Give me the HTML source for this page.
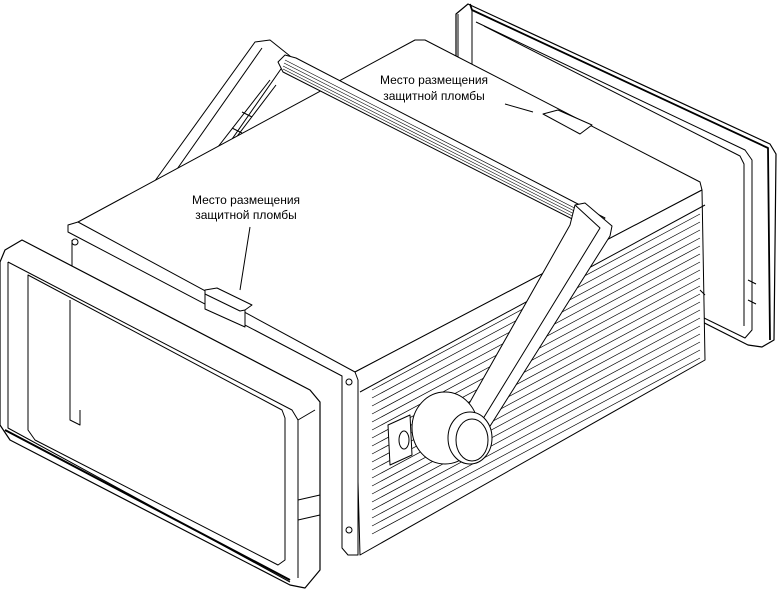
<!DOCTYPE html>
<html><head><meta charset="utf-8"><style>
html,body{margin:0;padding:0;background:#fff;width:777px;height:590px;overflow:hidden}
svg{display:block}
text{font-family:"Liberation Sans","DejaVu Sans",sans-serif;font-size:12px;fill:#000}
</style></head><body>
<svg width="777" height="590" viewBox="0 0 777 590" stroke="#000" stroke-width="1" fill="none" stroke-linejoin="round">
<!-- back bezel -->
<path d="M456 14 L468 4 L770 144 L776 154 L774 340 L762 347 L748 345 L560 250 L456 200 Z" fill="#fff" stroke-width="1.2"/>
<path d="M470 4 L472 10 L768 148 L770 340" stroke-width="1.8"/>
<path d="M476 22 L745 150 L752 160 L752 330 L745 338 L700 316"/>
<path d="M484 26 L740 156 L744 164 L744 326"/>
<path d="M458 14 L458 70 M472 10 L472 75"/>
<path d="M748 280 L756 284 M748 300 L756 304"/>
<!-- handle left arm -->
<path d="M255 42 L270 40 L290 56 L200 185 L152 185 Z" fill="#fff"/>
<path d="M262 48 L168 182 M270 80 L200 170 M276 85 L210 172"/>
<path d="M222 145 L232 150 M232 128 L242 133 M242 112 L252 117"/>
<!-- box top face -->
<path d="M78 222 L415 40 L425 40 L700 182 L702 190 L355 372 L345 370 L70 228 Z" fill="#fff"/>
<!-- handle bar -->
<path d="M285 55 L296 58 L605 218 L590 228 L283 72 L278 62 Z" fill="#fff"/>
<g stroke-width="0.6">
<path d="M285 60 L598 220 M284 63 L596 222 M283 66 L594 224 M283 69 L592 226"/>
</g>
<!-- right side face -->
<path d="M355 372 L702 190 L705 360 L360 555 Z" fill="#fff"/>
<g stroke-width="0.7">
<path d="M372 390 L700 214 M372 398 L700 222 M372 406 L700 230 M372 414 L700 238 M372 422 L700 246 M372 430 L700 254 M372 438 L700 262 M372 446 L700 270 M372 454 L700 278 M372 462 L700 286 M372 470 L700 294 M372 478 L700 302 M372 486 L700 310 M372 494 L700 318 M372 502 L700 326 M372 510 L700 334 M372 518 L700 342 M372 526 L700 350 M372 534 L700 358"/>
</g>
<path d="M360 392 L705 205 M700 290 L705 295"/>
<!-- front panel of box -->
<path d="M68 225 L78 222 L355 372 L358 380 L358 555 L348 555 L342 548 L342 376 L68 232 Z" fill="#fff"/>
<circle cx="349" cy="382" r="3"/><circle cx="349" cy="530" r="3"/><circle cx="75" cy="242" r="3"/><circle cx="75" cy="380" r="3"/>
<path d="M72 240 L72 390 L76 395"/>
<!-- connector -->
<path d="M388 425 L410 415 L412 455 L390 465 Z" fill="#fff"/>
<ellipse cx="404" cy="440" rx="5" ry="9"/>
<!-- handle right arm -->
<path d="M575 205 L585 203 L612 226 L610 236 L475 450 L440 455 L570 225 Z" fill="#fff"/>
<path d="M575 205 L600 228 L470 440"/>
<ellipse cx="445" cy="428" rx="33" ry="36" fill="#fff"/>
<ellipse cx="470" cy="438" rx="22" ry="26" fill="#fff"/>
<ellipse cx="472" cy="440" rx="16" ry="21"/>
<!-- front bezel -->
<path d="M5 250 L22 240 L310 390 L320 402 L320 570 L305 588 L290 585 L10 440 L0 425 L0 262 Z" fill="#fff" stroke-width="1.2"/>
<path d="M8 262 L292 410 L298 420 L298 578 M8 262 L8 428 L290 582"/>
<path d="M28 275 L282 410 L285 418 L285 560 L278 565 L35 440 L28 430 Z"/>
<path d="M298 420 L315 410 M298 500 L320 495 M298 520 L320 515"/>
<path d="M5 430 L290 580" stroke-width="2"/>
<path d="M70 300 L70 420 L80 425 L80 410"/>
<!-- seals -->
<path d="M205 290 L217 288 L252 305 L245 310 L245 327 L205 309 Z" fill="#fff"/>
<path d="M205 294 L240 311 L245 310"/>
<path d="M543 114 L558 110 L592 125 L580 134 Z" fill="#fff"/>
<!-- leaders -->
<path d="M240 290 L250 227 M505 104 L533 112"/>
</svg>
<svg width="777" height="590" style="position:absolute;left:0;top:0">
<text x="246" y="204" text-anchor="middle">Место размещения</text>
<text x="246" y="219" text-anchor="middle">защитной пломбы</text>
<text x="434" y="84" text-anchor="middle">Место размещения</text>
<text x="434" y="100" text-anchor="middle">защитной пломбы</text>
</svg>
</body></html>
